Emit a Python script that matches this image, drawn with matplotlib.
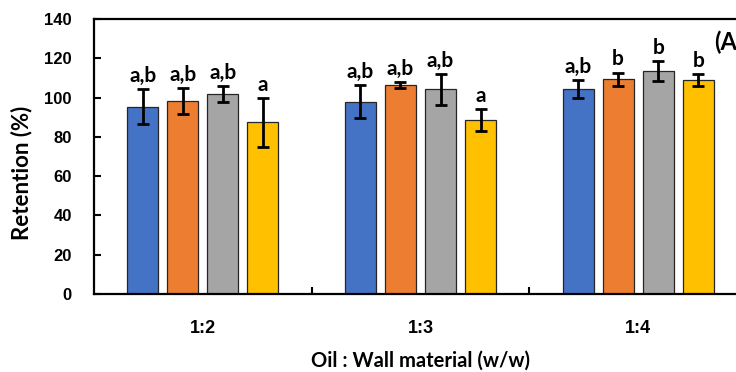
import matplotlib
matplotlib.use("Agg")
import matplotlib.pyplot as plt
import numpy as np

categories = ["1:2", "1:3", "1:4"]
series_colors = ["#4472C4", "#ED7D31", "#A5A5A5", "#FFC000"]
means = [
    [95.3, 98.3, 101.8, 87.4],
    [97.9, 106.4, 104.2, 88.6],
    [104.5, 109.3, 113.7, 109.0],
]
errors = [
    [9.0, 6.5, 4.0, 12.5],
    [8.3, 1.5, 7.8, 5.4],
    [4.5, 3.4, 5.1, 3.0],
]
letters = [
    ["a,b", "a,b", "a,b", "a"],
    ["a,b", "a,b", "a,b", "a"],
    ["a,b", "b", "b", "b"],
]
yticks = [0, 20, 40, 60, 80, 100, 120, 140]

LABEL_FONT = ["Lato", "DejaVu Sans"]
TICK_FONT = ["Liberation Sans", "DejaVu Sans"]

fig = plt.figure(figsize=(7.36, 3.72), dpi=100)
ax = fig.add_axes([94 / 736, 78 / 372, 653 / 736, 275 / 372])

n = len(series_colors)
width = 0.143
step = 0.184
x = np.arange(len(categories))
for j in range(n):
    off = (j - (n - 1) / 2) * step
    vals = [m[j] for m in means]
    errs = [e[j] for e in errors]
    ax.bar(x + off, vals, width=width, color=series_colors[j],
           edgecolor="#262626", linewidth=0.9, zorder=2)
    ax.errorbar(x + off, vals, yerr=errs, fmt="none", ecolor="black",
                elinewidth=2, capsize=4.5, capthick=2, zorder=3)
    for i in range(len(categories)):
        ax.text(x[i] + off, vals[i] + errs[i] + 1.6, letters[i][j],
                ha="center", va="bottom", fontsize=15, fontweight="bold",
                family=LABEL_FONT, zorder=4)

ax.set_xlim(-0.5, len(categories) - 0.5)
ax.set_ylim(0, 140)
ax.set_yticks(yticks)
ax.set_yticklabels([str(t) for t in yticks], fontsize=12, fontweight="bold",
                   family=TICK_FONT)
ax.set_xticks(x)
ax.set_xticklabels(categories, fontsize=13, fontweight="bold", family=TICK_FONT)
ax.tick_params(axis="x", length=0, pad=19)
ax.set_xticks(np.arange(0.5, len(categories) - 0.5, 1), minor=True)
ax.tick_params(axis="x", which="minor", direction="in", length=5, width=1.5)
ax.tick_params(axis="y", direction="in", length=5, width=1.5, pad=16)

for s in ax.spines.values():
    s.set_linewidth(1.6)

ax.set_xlabel("Oil : Wall material (w/w)", fontsize=14.5, fontweight="bold",
              family=LABEL_FONT)
ax.xaxis.label.set_va("baseline")
ax.xaxis.set_label_coords(0.5, (294 - 367) / 275)
ax.set_ylabel("Retention (%)", fontsize=16, fontweight="bold", family=LABEL_FONT)
ax.yaxis.label.set_va("center")
ax.yaxis.set_label_coords((22 - 94) / 653, (294 - 173) / 275)

ax.text(714 / 736, (372 - 42) / 372, "(A)", transform=fig.transFigure,
        fontsize=17, fontweight="bold", family=LABEL_FONT, ha="left", va="center")

fig.savefig("out.png", dpi=100)
